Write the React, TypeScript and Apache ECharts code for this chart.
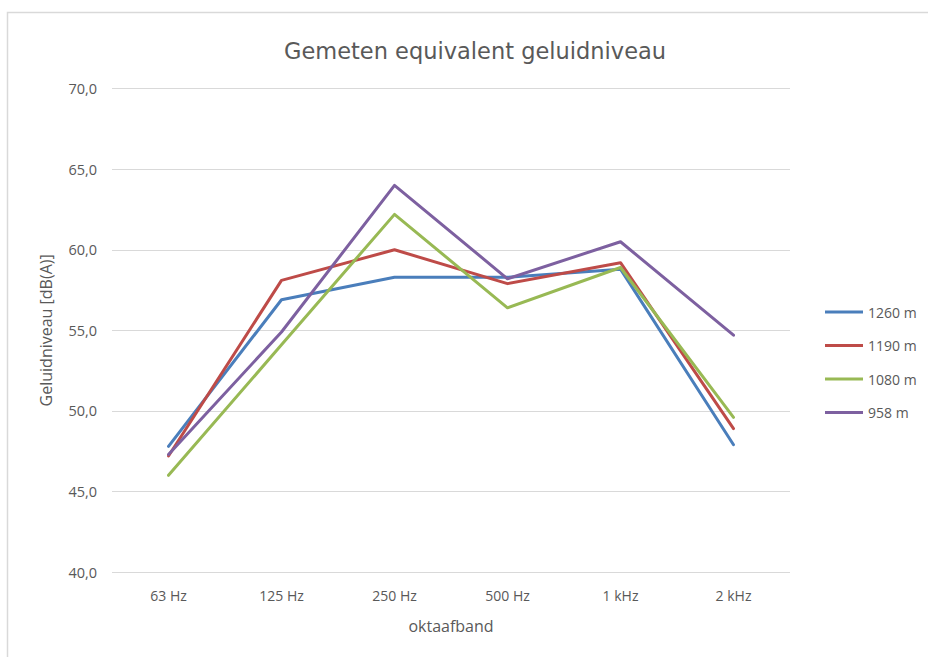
import React, { useEffect, useRef } from "react";
import * as echarts from "echarts";

const categories = ["63 Hz", "125 Hz", "250 Hz", "500 Hz", "1 kHz", "2 kHz"];
const seriesNames = ["1260 m", "1190 m", "1080 m", "958 m"];
const s1260 = [47.8, 56.9, 58.3, 58.3, 58.8, 47.9];
const s1190 = [47.2, 58.1, 60.0, 57.9, 59.2, 48.9];
const s1080 = [46.0, 54.1, 62.2, 56.4, 58.9, 49.6];
const s958 = [47.3, 54.9, 64.0, 58.2, 60.5, 54.7];
const seriesColors = ["#4a7ebb", "#be4b48", "#98b954", "#7d60a0"];
const yMin = 40;
const yMax = 70;
const yStep = 5;

const FONT = "'Open Sans', 'Noto Sans', sans-serif";
const TXT = "#595959";

export default function App() {
  const ref = useRef<HTMLDivElement>(null);
  useEffect(() => {
    if (!ref.current) return;
    const chart = echarts.init(ref.current, null, { renderer: "svg" });
    const data = [s1260, s1190, s1080, s958];
    chart.setOption({
      animation: false,
      backgroundColor: "#ffffff",
      textStyle: { fontFamily: FONT, color: TXT },
      title: {
        text: "Gemeten equivalent geluidniveau",
        left: 470,
        top: 34,
        textAlign: "center",
        textStyle: { fontFamily: "'DejaVu Sans', sans-serif", fontSize: 22.5, fontWeight: "normal", color: TXT },
      },
      graphic: [
        {
          type: "rect",
          shape: { x: 7.5, y: 12.5, width: 1000, height: 1000 },
          style: { fill: "none", stroke: "#d9d9d9", lineWidth: 1.5 },
          silent: true,
        },
      ],
      legend: {
        orient: "vertical",
        left: 820,
        top: 297,
        itemWidth: 38,
        itemHeight: 3,
        itemGap: 13.5,
        icon: "rect",
        data: seriesNames,
        textStyle: { fontFamily: FONT, fontSize: 14, color: TXT, lineHeight: 20 },
      },
      grid: { left: 112, right: 138, top: 88.7, bottom: 85 },
      xAxis: {
        type: "category",
        data: categories,
        boundaryGap: true,
        axisLine: { show: false },
        axisTick: { show: false },
        axisLabel: { margin: 16, fontFamily: FONT, fontSize: 14, color: TXT },
        name: "oktaafband",
        nameLocation: "middle",
        nameGap: 46,
        nameTextStyle: { fontFamily: FONT, fontSize: 16, color: TXT },
      },
      yAxis: {
        type: "value",
        min: yMin,
        max: yMax,
        interval: yStep,
        axisLine: { show: false },
        axisTick: { show: false },
        splitLine: { lineStyle: { color: "#d9d9d9", width: 1 } },
        axisLabel: {
          margin: 15,
          fontFamily: FONT,
          fontSize: 14.5,
          color: TXT,
          formatter: (v: number) => v.toFixed(1).replace(".", ","),
        },
        name: "Geluidniveau [dB(A)]",
        nameLocation: "middle",
        nameGap: 58,
        nameTextStyle: { fontFamily: FONT, fontSize: 16, color: TXT },
      },
      series: seriesNames.map((n, i) => ({
        name: n,
        type: "line",
        data: data[i],
        symbol: "none",
        color: seriesColors[i],
        lineStyle: { width: 3, color: seriesColors[i], cap: "round", join: "round" },
      })),
    });
    return () => chart.dispose();
  }, []);
  return (
    <div
      ref={ref}
      style={{ position: "absolute", left: 0, top: 0, width: 928, height: 657 }}
    />
  );
}
